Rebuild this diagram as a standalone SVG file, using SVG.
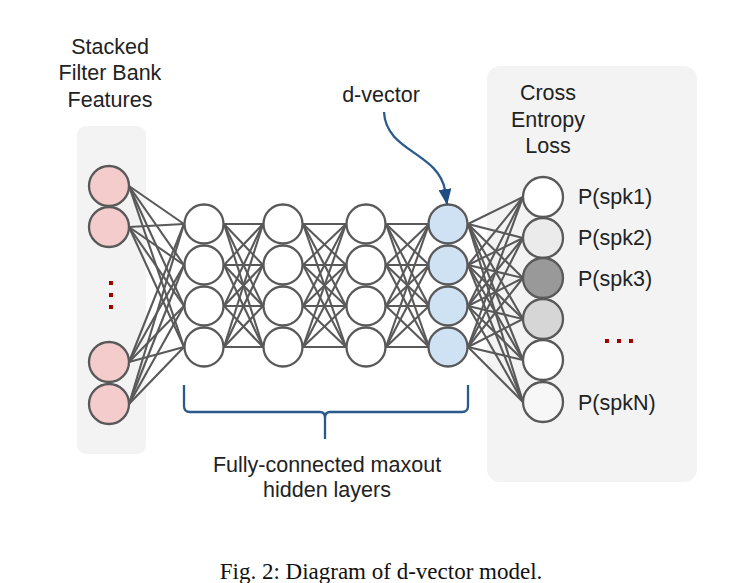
<svg xmlns="http://www.w3.org/2000/svg" width="747" height="583" viewBox="0 0 747 583">
<style>
.panel{fill:#f3f3f3}
.n{stroke:#595959;stroke-width:2.3}
.e line{stroke:#595959;stroke-width:2.1}
.t{font-family:"Liberation Sans",Arial,sans-serif;font-size:21.5px;fill:#222;text-anchor:middle}
.lbl{font-family:"Liberation Sans",Arial,sans-serif;font-size:21.5px;fill:#222}
.blue{stroke:#2a5a8c;stroke-width:2.3;fill:none}
.dot{fill:#a00000}
</style>
<defs>
<marker id="ah" viewBox="0 0 16 13" refX="15" refY="6.5" markerWidth="16" markerHeight="13" orient="auto" markerUnits="userSpaceOnUse">
<path d="M0,0 L16,6.5 L0,13 z" fill="#1f4e82"/>
</marker>
</defs>
<rect width="747" height="583" fill="#fff"/>
<rect class="panel" x="77" y="126" width="69" height="328" rx="9"/>
<rect class="panel" x="487" y="66" width="210" height="416" rx="13"/>
<text class="t" x="110" y="54">Stacked</text>
<text class="t" x="110" y="80">Filter Bank</text>
<text class="t" x="110" y="107">Features</text>
<text class="t" x="381" y="102">d-vector</text>
<text class="t" x="548" y="100">Cross</text>
<text class="t" x="548" y="127">Entropy</text>
<text class="t" x="548" y="153">Loss</text>
<g id="connectors" class="e">
<line x1="129" y1="186" x2="184" y2="224"/><line x1="129" y1="186" x2="184" y2="265"/><line x1="129" y1="186" x2="184" y2="306"/><line x1="129" y1="186" x2="184" y2="347"/>
<line x1="129" y1="227" x2="184" y2="224"/><line x1="129" y1="227" x2="184" y2="265"/><line x1="129" y1="227" x2="184" y2="306"/><line x1="129" y1="227" x2="184" y2="347"/>
<line x1="129" y1="362" x2="184" y2="224"/><line x1="129" y1="362" x2="184" y2="265"/><line x1="129" y1="362" x2="184" y2="306"/><line x1="129" y1="362" x2="184" y2="347"/>
<line x1="129" y1="404" x2="184" y2="224"/><line x1="129" y1="404" x2="184" y2="265"/><line x1="129" y1="404" x2="184" y2="306"/><line x1="129" y1="404" x2="184" y2="347"/>
<line x1="224" y1="224" x2="263" y2="224"/><line x1="224" y1="224" x2="263" y2="265"/><line x1="224" y1="224" x2="263" y2="306"/><line x1="224" y1="224" x2="263" y2="347"/>
<line x1="224" y1="265" x2="263" y2="224"/><line x1="224" y1="265" x2="263" y2="265"/><line x1="224" y1="265" x2="263" y2="306"/><line x1="224" y1="265" x2="263" y2="347"/>
<line x1="224" y1="306" x2="263" y2="224"/><line x1="224" y1="306" x2="263" y2="265"/><line x1="224" y1="306" x2="263" y2="306"/><line x1="224" y1="306" x2="263" y2="347"/>
<line x1="224" y1="347" x2="263" y2="224"/><line x1="224" y1="347" x2="263" y2="265"/><line x1="224" y1="347" x2="263" y2="306"/><line x1="224" y1="347" x2="263" y2="347"/>
<line x1="303" y1="224" x2="346" y2="224"/><line x1="303" y1="224" x2="346" y2="265"/><line x1="303" y1="224" x2="346" y2="306"/><line x1="303" y1="224" x2="346" y2="347"/>
<line x1="303" y1="265" x2="346" y2="224"/><line x1="303" y1="265" x2="346" y2="265"/><line x1="303" y1="265" x2="346" y2="306"/><line x1="303" y1="265" x2="346" y2="347"/>
<line x1="303" y1="306" x2="346" y2="224"/><line x1="303" y1="306" x2="346" y2="265"/><line x1="303" y1="306" x2="346" y2="306"/><line x1="303" y1="306" x2="346" y2="347"/>
<line x1="303" y1="347" x2="346" y2="224"/><line x1="303" y1="347" x2="346" y2="265"/><line x1="303" y1="347" x2="346" y2="306"/><line x1="303" y1="347" x2="346" y2="347"/>
<line x1="386" y1="224" x2="429" y2="224"/><line x1="386" y1="224" x2="429" y2="265"/><line x1="386" y1="224" x2="429" y2="306"/><line x1="386" y1="224" x2="429" y2="347"/>
<line x1="386" y1="265" x2="429" y2="224"/><line x1="386" y1="265" x2="429" y2="265"/><line x1="386" y1="265" x2="429" y2="306"/><line x1="386" y1="265" x2="429" y2="347"/>
<line x1="386" y1="306" x2="429" y2="224"/><line x1="386" y1="306" x2="429" y2="265"/><line x1="386" y1="306" x2="429" y2="306"/><line x1="386" y1="306" x2="429" y2="347"/>
<line x1="386" y1="347" x2="429" y2="224"/><line x1="386" y1="347" x2="429" y2="265"/><line x1="386" y1="347" x2="429" y2="306"/><line x1="386" y1="347" x2="429" y2="347"/>
<line x1="468" y1="224" x2="523" y2="197"/><line x1="468" y1="224" x2="523" y2="238"/><line x1="468" y1="224" x2="523" y2="278"/><line x1="468" y1="224" x2="523" y2="319"/><line x1="468" y1="224" x2="523" y2="360"/><line x1="468" y1="224" x2="523" y2="402"/>
<line x1="468" y1="265" x2="523" y2="197"/><line x1="468" y1="265" x2="523" y2="238"/><line x1="468" y1="265" x2="523" y2="278"/><line x1="468" y1="265" x2="523" y2="319"/><line x1="468" y1="265" x2="523" y2="360"/><line x1="468" y1="265" x2="523" y2="402"/>
<line x1="468" y1="306" x2="523" y2="197"/><line x1="468" y1="306" x2="523" y2="238"/><line x1="468" y1="306" x2="523" y2="278"/><line x1="468" y1="306" x2="523" y2="319"/><line x1="468" y1="306" x2="523" y2="360"/><line x1="468" y1="306" x2="523" y2="402"/>
<line x1="468" y1="347" x2="523" y2="197"/><line x1="468" y1="347" x2="523" y2="238"/><line x1="468" y1="347" x2="523" y2="278"/><line x1="468" y1="347" x2="523" y2="319"/><line x1="468" y1="347" x2="523" y2="360"/><line x1="468" y1="347" x2="523" y2="402"/>
</g>
<g id="input">
<circle class="n" cx="109" cy="186" r="20" fill="#f4cccc"/>
<circle class="n" cx="109" cy="227" r="20" fill="#f4cccc"/>
<circle class="n" cx="109" cy="362" r="20" fill="#f4cccc"/>
<circle class="n" cx="109" cy="404" r="20" fill="#f4cccc"/>
<rect class="dot" x="109" y="281" width="4" height="4"/>
<rect class="dot" x="109" y="293" width="4" height="4"/>
<rect class="dot" x="109" y="305" width="4" height="4"/>
</g>
<g id="hidden1" fill="#fff">
<circle class="n" cx="204" cy="224" r="19.5"/><circle class="n" cx="204" cy="265" r="19.5"/><circle class="n" cx="204" cy="306" r="19.5"/><circle class="n" cx="204" cy="347" r="19.5"/>
</g>
<g id="hidden2" fill="#fff">
<circle class="n" cx="283" cy="224" r="19.5"/><circle class="n" cx="283" cy="265" r="19.5"/><circle class="n" cx="283" cy="306" r="19.5"/><circle class="n" cx="283" cy="347" r="19.5"/>
</g>
<g id="hidden3" fill="#fff">
<circle class="n" cx="366" cy="224" r="19.5"/><circle class="n" cx="366" cy="265" r="19.5"/><circle class="n" cx="366" cy="306" r="19.5"/><circle class="n" cx="366" cy="347" r="19.5"/>
</g>
<g id="dvector" fill="#cfe2f3">
<circle class="n" cx="448" cy="224" r="19.5"/><circle class="n" cx="448" cy="265" r="19.5"/><circle class="n" cx="448" cy="306" r="19.5"/><circle class="n" cx="448" cy="347" r="19.5"/>
</g>
<g id="output">
<circle class="n" cx="543" cy="197" r="20" fill="#ffffff"/>
<circle class="n" cx="543" cy="238" r="20" fill="#ebebeb"/>
<circle class="n" cx="543" cy="278" r="20" fill="#999999"/>
<circle class="n" cx="543" cy="319" r="20" fill="#d6d6d6"/>
<circle class="n" cx="543" cy="360" r="20" fill="#ffffff"/>
<circle class="n" cx="543" cy="402" r="20" fill="#f7f7f7"/>
<text class="lbl" x="578" y="204">P(spk1)</text>
<text class="lbl" x="578" y="245">P(spk2)</text>
<text class="lbl" x="578" y="286">P(spk3)</text>
<text class="lbl" x="578" y="410">P(spkN)</text>
<rect class="dot" x="605" y="339" width="4" height="4"/>
<rect class="dot" x="617" y="339" width="4" height="4"/>
<rect class="dot" x="629" y="339" width="4" height="4"/>
</g>
<g id="dvector-arrow">
<path class="blue" d="M384,112 C386,152 438,152 445,190 L447,204" marker-end="url(#ah)"/>
</g>
<g id="bracket">
<path class="blue" d="M184,385 L184,406 Q184,412 190,412 L320,412 Q325,412 325,418 L325,439 M325,418 Q325,412 330,412 L462,412 Q468,412 468,406 L468,385"/>
</g>
<text class="t" x="327" y="472">Fully-connected maxout</text>
<text class="t" x="327" y="497">hidden layers</text>
<text x="381" y="579" font-family="'Liberation Serif','Times New Roman',serif" font-size="23" fill="#111" text-anchor="middle">Fig. 2: Diagram of d-vector model.</text>
</svg>
